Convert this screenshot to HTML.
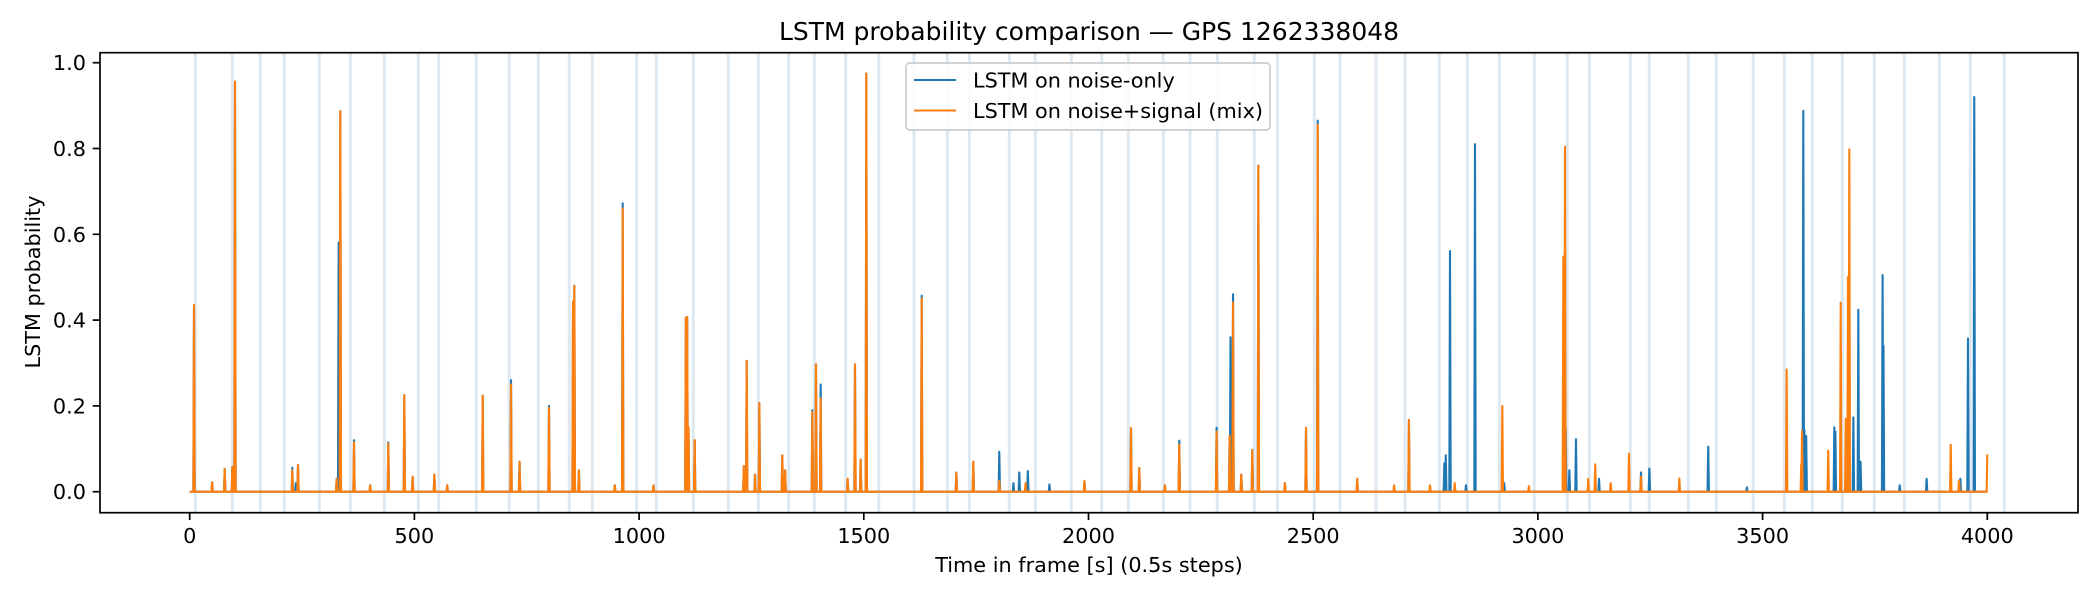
<!DOCTYPE html>
<html><head><meta charset="utf-8"><style>
html,body{margin:0;padding:0;background:#fff;}
svg{display:block;font-family:"DejaVu Sans","Liberation Sans",sans-serif;}
</style></head><body>
<svg id="chart" width="2100" height="600" viewBox="0 0 2100 600" xmlns="http://www.w3.org/2000/svg">
<rect width="2100" height="600" fill="#fff"/>
<text x="1089" y="40" text-anchor="middle" font-size="25" fill="#000">LSTM probability comparison — GPS 1262338048</text>
<g id="bands"></g>
<g id="series"></g>
<rect x="100" y="52.7" width="1978" height="460" fill="none" stroke="#000" stroke-width="1.7"/>
<g id="xticks"></g>
<g id="yticks"></g>
<text x="1089" y="572" text-anchor="middle" font-size="20.8">Time in frame [s] (0.5s steps)</text>
<text x="0" y="0" transform="translate(40,282) rotate(-90)" text-anchor="middle" font-size="20.8">LSTM probability</text>
<g>
<rect x="906" y="63" width="364" height="67" rx="4" fill="#fff" fill-opacity="0.8" stroke="#cccccc" stroke-width="1.7"/>
<line x1="914" y1="80" x2="956" y2="80" stroke="#1f77b4" stroke-width="2.1"/>
<text x="973" y="87.5" font-size="20.8">LSTM on noise-only</text>
<line x1="914" y1="110.5" x2="956" y2="110.5" stroke="#ff7f0e" stroke-width="2.1"/>
<text x="973" y="118" font-size="20.8">LSTM on noise+signal (mix)</text>
</g>
</svg>
<script>
// segment boundary markers (seconds)
const segmentTimes = [12.5,94.8,157,210.6,288.4,357.4,433,508.7,554,637.7,711,775.7,844.6,895.8,994.7,1038.3,1120.6,1198.5,1265.3,1332.9,1389.9,1459.7,1533.2,1611.7,1685.9,1734.8,1823.8,1881.7,1961.8,2029.4,2088.6,2166.5,2225.9,2286.6,2369,2420.2,2502.5,2559.6,2639.8,2704.3,2780.6,2843,2914.1,2992,3065.4,3114.4,3205.6,3247.9,3334.7,3397,3479.3,3548.3,3610.6,3677.3,3748.5,3815.3,3893.2,3962.2,4037.8];
// noise-only series peaks
const noiseTimes = [9.6,50,77.9,95,100.8,228.3,236,241,327,331.5,335.2,365.6,401.6,442,477.6,496,544.4,573,652,715,734,799.5,853,855.9,866,946,963.5,1032,1104,1107,1110,1123.7,1233,1239.4,1258,1267.6,1318.7,1325,1385.5,1393.6,1404,1464,1480.4,1493,1505.6,1628.8,1706,1743.7,1801.5,1833,1846,1865,1913,1991,2094.6,2113,2170,2202,2285,2314,2316,2321.6,2340,2364.5,2378,2437,2484,2510,2598,2713,2791.7,2795,2804.4,2840,2860,2925,3062,3070,3084.7,3136,3229.4,3248,3379,3465,3590.6,3593,3597,3659.6,3662,3702,3713,3718,3767,3769,3805,3865,3940,3957,3971];
const noiseVals  = [0.435,0.022,0.053,0.058,0.956,0.056,0.02,0.062,0.03,0.581,0.887,0.12,0.015,0.115,0.225,0.035,0.04,0.015,0.224,0.26,0.07,0.2,0.443,0.48,0.05,0.015,0.672,0.015,0.406,0.407,0.15,0.12,0.06,0.305,0.04,0.207,0.085,0.05,0.19,0.297,0.25,0.03,0.297,0.075,0.975,0.457,0.045,0.07,0.093,0.02,0.045,0.048,0.017,0.025,0.148,0.055,0.015,0.119,0.149,0.13,0.36,0.46,0.04,0.097,0.76,0.02,0.149,0.865,0.03,0.167,0.066,0.085,0.561,0.015,0.81,0.02,0.146,0.05,0.122,0.03,0.045,0.054,0.105,0.01,0.888,0.143,0.13,0.15,0.14,0.173,0.424,0.07,0.505,0.34,0.015,0.03,0.03,0.357,0.92];
// noise+signal (mix) series peaks
const mixTimes = [9.6,50,77.9,95,100.8,228.3,241,327,335.2,365.6,401.6,442,477.6,496,544.4,573,652,715,734,799.5,853,855.9,866,946,963.5,1032,1104,1107,1110,1123.7,1233,1239.4,1258,1267.6,1318.7,1325,1385.5,1393.6,1404,1464,1480.4,1493,1505.6,1628.8,1706,1743.7,1801.5,1860,1991,2094.6,2113,2170,2202,2285,2314,2321.6,2340,2364.5,2378,2437,2484,2510,2598,2680,2713,2760,2815,2920.8,2980,3056.6,3060.3,3112,3127.7,3162,3202.7,3229.4,3314.7,3553.5,3586,3587.7,3646,3673.8,3685,3690,3693,3918.6,3937,4000];
const mixVals  = [0.435,0.022,0.053,0.058,0.956,0.05,0.062,0.03,0.887,0.115,0.015,0.112,0.225,0.035,0.04,0.015,0.224,0.25,0.07,0.195,0.443,0.48,0.05,0.015,0.66,0.015,0.406,0.407,0.15,0.12,0.06,0.305,0.04,0.207,0.085,0.05,0.186,0.297,0.217,0.03,0.297,0.075,0.975,0.45,0.045,0.07,0.025,0.02,0.025,0.148,0.055,0.015,0.11,0.14,0.13,0.441,0.04,0.097,0.76,0.02,0.149,0.855,0.03,0.015,0.167,0.015,0.02,0.2,0.013,0.548,0.804,0.03,0.064,0.02,0.089,0.035,0.031,0.285,0.065,0.141,0.096,0.441,0.17,0.5,0.798,0.109,0.025,0.087];
const xTickVals = [0,500,1000,1500,2000,2500,3000,3500,4000];
const yTickVals = [0,0.2,0.4,0.6,0.8,1.0];
const yTickLabels = ["0.0","0.2","0.4","0.6","0.8","1.0"];

const NS = "http://www.w3.org/2000/svg";
const X0 = 189.7, KX = 0.4494, Y0 = 491.7, KY = 429;
function xs(t){ return X0 + t*KX; }
function ys(v){ return Y0 - v*KY; }
function mk(tag, attrs, parent){
  const e = document.createElementNS(NS, tag);
  for (const k in attrs) e.setAttribute(k, attrs[k]);
  parent.appendChild(e);
  return e;
}
const bands = document.getElementById('bands');
segmentTimes.forEach(t => {
  const l = mk('line', {x1: xs(t), x2: xs(t), y1: 53.5, y2: 512, stroke: '#4682b4', 'stroke-opacity': 0.18, 'stroke-width': 3}, bands);
  
  
});
function buildPath(times, vals){
  const idx = times.map((t,i)=>i).sort((a,b)=>times[a]-times[b]);
  let pts = [[0,0]];
  idx.forEach(i => {
    const t = times[i], v = vals[i];
    pts.push([Math.max(0,t-1.5),0]);
    pts.push([t,v]);
    if (t < 4000) pts.push([Math.min(4000,t+1.5),0]);
  });
  if (pts[pts.length-1][0] < 4000) pts.push([4000,0]);
  return 'M' + pts.map(p => xs(p[0]).toFixed(2)+','+ys(p[1]).toFixed(2)).join('L');
}
const series = document.getElementById('series');
const pn = mk('path', {d: buildPath(noiseTimes, noiseVals), fill: 'none', stroke: '#1f77b4', 'stroke-width': 2.1, 'stroke-linejoin': 'round'}, series);


const pm = mk('path', {d: buildPath(mixTimes, mixVals), fill: 'none', stroke: '#ff7f0e', 'stroke-width': 2.1, 'stroke-linejoin': 'round'}, series);



const xt = document.getElementById('xticks');
xTickVals.forEach(v => {
  const tk = mk('line', {x1: xs(v), x2: xs(v), y1: 512.7, y2: 520, stroke: '#000', 'stroke-width': 1.7}, xt);
  
  
  const tx = mk('text', {x: xs(v), y: 543, 'text-anchor': 'middle', 'font-size': 20.8}, xt);
  
  
  tx.textContent = String(v);
});
const yt = document.getElementById('yticks');
yTickVals.forEach((v,i) => {
  const tk = mk('line', {x1: 92.7, x2: 100, y1: ys(v), y2: ys(v), stroke: '#000', 'stroke-width': 1.7}, yt);
  
  
  const tx = mk('text', {x: 86, y: ys(v)+7.5, 'text-anchor': 'end', 'font-size': 20.8}, yt);
  
  
  tx.textContent = yTickLabels[i];
});
</script>
</body></html>
